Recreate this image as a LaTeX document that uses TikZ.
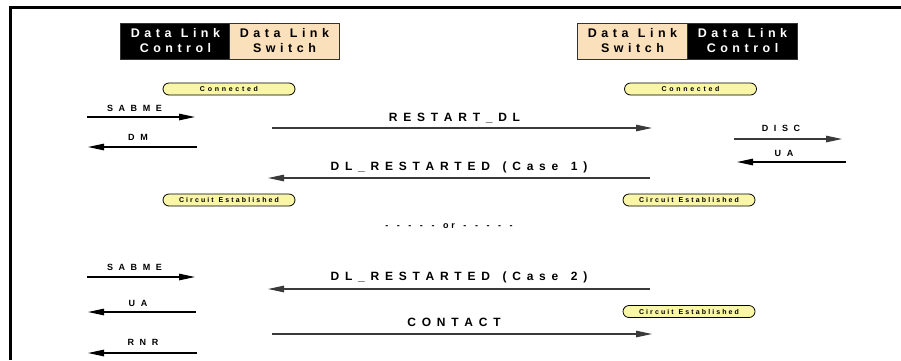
\documentclass[tikz,border=0pt]{standalone}
\usepackage{fontspec}
\setmainfont{Liberation Sans}
\ExplSyntaxOn
\seq_new:N \l_spc_words_seq
\bool_new:N \l_spc_firstw_bool
\bool_new:N \l_spc_firstl_bool
\NewDocumentCommand\spc{mmm}{
  \seq_set_split:Nnn \l_spc_words_seq {~} {#3}
  \bool_set_true:N \l_spc_firstw_bool
  \seq_map_inline:Nn \l_spc_words_seq {
    \bool_if:NF \l_spc_firstw_bool {\hspace{#2}}
    \bool_set_false:N \l_spc_firstw_bool
    \bool_set_true:N \l_spc_firstl_bool
    \tl_map_inline:nn {##1} {
      \bool_if:NF \l_spc_firstl_bool {\hspace{#1}}
      \bool_set_false:N \l_spc_firstl_bool
      ####1
    }
  }
}
\ExplSyntaxOff
\newcommand\hdrtxt[1]{\spc{0.36em}{0.75em}{#1}}
\newcommand\bigtxt[1]{\spc{0.48em}{1.05em}{#1}}
\newcommand\smalltxt[1]{\spc{0.62em}{0.8em}{#1}}
\newcommand\ortxt[1]{\spc{0.32em}{0.95em}{#1}}
\newcommand\contxt[1]{\spc{0.39em}{0.7em}{#1}}
\newcommand\cirtxt[1]{\spc{0.3em}{0.7em}{#1}}
\usetikzlibrary{arrows.meta}
\definecolor{tan}{HTML}{FBE0BC}
\definecolor{pillfill}{HTML}{FAF6A8}
\definecolor{msggray}{HTML}{3A3A3A}
\tikzset{
  hdrbox/.style={draw=black!80, line width=0.6pt, minimum width=110pt, minimum height=36pt,
    inner sep=0pt, align=center, font=\bfseries\fontsize{12.5}{15}\selectfont},
  hdrblack/.style={hdrbox, fill=black, text=white},
  hdrtan/.style={hdrbox, fill=tan, text=black},
  pill/.style={draw=black, line width=0.8pt, fill=pillfill, rounded corners=6pt,
    minimum width=132pt, minimum height=12pt, inner sep=0pt,
    font=\bfseries\fontsize{7}{8}\selectfont},
  biglab/.style={inner sep=0pt, font=\bfseries\fontsize{12}{13}\selectfont},
  smalllab/.style={inner sep=0pt, font=\bfseries\fontsize{9}{10}\selectfont},
  msg/.style={line width=1.1pt, -{Triangle[length=16pt,width=6.5pt]}},
  midmsg/.style={msg, draw=msggray},
  frameline/.style={line width=3pt, black},
}
\begin{document}
\begin{tikzpicture}[x=1pt,y=-1pt]
\useasboundingbox (0,0) rectangle (901,360);
% frame
\coordinate (fl) at (10,360);
\coordinate (fc) at (10,7.3);
\coordinate (fr) at (901,7.3);
\draw[frameline] (fl) -- (10,5.8) (8.5,7.3) -- (fr);
% headers
\node[hdrblack] (dlcL) at (175.5,41) {\hdrtxt{Data Link}\\\hdrtxt{Control}};
\node[hdrtan] (dlsL) at (284.5,41) {\hdrtxt{Data Link}\\\hdrtxt{Switch}};
\node[hdrtan] (dlsR) at (632.5,41) {\hdrtxt{Data Link}\\\hdrtxt{Switch}};
\node[hdrblack] (dlcR) at (742.5,41) {\hdrtxt{Data Link}\\\hdrtxt{Control}};
% pills
\node[pill] (conL) at (229,89) {\contxt{Connected}};
\node[pill] (conR) at (690.5,89) {\contxt{Connected}};
\node[pill] (ceL) at (229,200) {\cirtxt{Circuit Established}};
\node[pill] (ceR) at (689,200) {\cirtxt{Circuit Established}};
\node[pill] (ceR2) at (689,311.5) {\cirtxt{Circuit Established}};
% left lane coordinates
\coordinate (s1a) at (87,117);   \coordinate (s1b) at (195,117);
\coordinate (dma) at (197,147);  \coordinate (dmb) at (88,147);
\coordinate (s2a) at (87,277);   \coordinate (s2b) at (195,277);
\coordinate (uaa) at (196,312);  \coordinate (uab) at (88,312);
\coordinate (rna) at (197,353);  \coordinate (rnb) at (88,353);
% middle
\coordinate (rsa) at (272,128);  \coordinate (rsb) at (652,128);
\coordinate (c1a) at (650,178);  \coordinate (c1b) at (268,178);
\coordinate (c2a) at (650,289);  \coordinate (c2b) at (268,289);
\coordinate (cta) at (272,334);  \coordinate (ctb) at (652,334);
% right lane
\coordinate (dia) at (734,139);  \coordinate (dib) at (842,139);
\coordinate (ura) at (846,162);  \coordinate (urb) at (737,162);
% arrows
\draw[msg] (s1a) -- (s1b);
\draw[msg] (dma) -- (dmb);
\draw[msg] (s2a) -- (s2b);
\draw[msg] (uaa) -- (uab);
\draw[msg] (rna) -- (rnb);
\draw[midmsg] (rsa) -- (rsb);
\draw[midmsg] (c1a) -- (c1b);
\draw[midmsg] (c2a) -- (c2b);
\draw[midmsg] (cta) -- (ctb);
\draw[msg, draw=msggray] (dia) -- (dib);
\draw[msg] (ura) -- (urb);
% labels
\node[smalllab] (l1) at (134.5,108) {\smalltxt{SABME}};
\node[smalllab] (l2) at (138,137.5) {\smalltxt{DM}};
\node[smalllab] (l3) at (134.5,267.5) {\smalltxt{SABME}};
\node[smalllab] (l4) at (138,303) {\smalltxt{UA}};
\node[smalllab] (l5) at (143,342.5) {\smalltxt{RNR}};
\node[biglab] (l6) at (454.5,118) {\bigtxt{RESTART\_DL}};
\node[biglab] (l7) at (459,167) {\bigtxt{DL\_RESTARTED (Case 1)}};
\node[smalllab] (l8) at (449,226) {\ortxt{- - - - - or - - - - -}};
\node[biglab] (l9) at (459,277.5) {\bigtxt{DL\_RESTARTED (Case 2)}};
\node[biglab] (l10) at (454,322.5) {\bigtxt{CONTACT}};
\node[smalllab] (l11) at (781,128.5) {\smalltxt{DISC}};
\node[smalllab] (l12) at (784,153) {\smalltxt{UA}};
\end{tikzpicture}
\end{document}
